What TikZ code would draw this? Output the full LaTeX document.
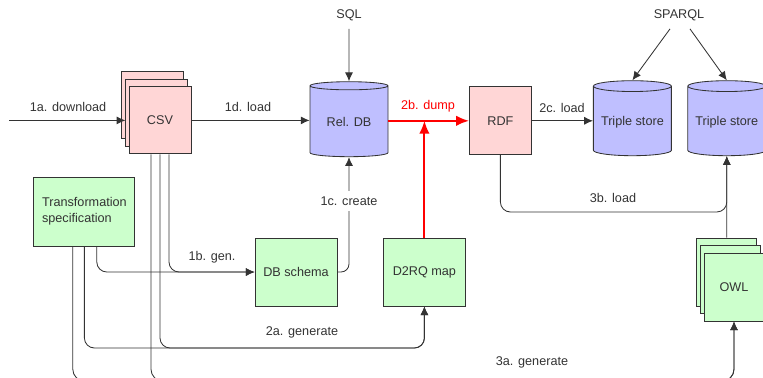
\documentclass[tikz,border=0pt]{standalone}
\usepackage{fontspec}
\setmainfont{Liberation Sans}
\usetikzlibrary{arrows.meta,shapes.geometric}
\definecolor{filepink}{RGB}{255,214,214}
\definecolor{docgreen}{RGB}{204,255,204}
\definecolor{storeblue}{RGB}{191,191,255}
\definecolor{linegray}{RGB}{51,51,51}

\begin{document}
\begin{tikzpicture}[
	font=\fontsize{9}{11.4}\selectfont, text=linegray,
	filebox/.style={draw=linegray, line width=0.6pt, fill=filepink, minimum width=1.55cm, minimum height=1.7cm},
	specbox/.style={draw=linegray, line width=0.6pt, fill=docgreen, minimum width=2.05cm, minimum height=1.7cm},
	store/.style={cylinder, shape border rotate=90, aspect=0.15, draw=linegray, line width=0.6pt, fill=storeblue, minimum width=1.95cm, minimum height=1.875cm},
	lbl/.style={inner sep=1pt},
	arr/.style={draw=linegray, line width=0.6pt, -{Latex[length=2.2mm,width=2mm]}},
	dump/.style={draw=red, line width=1.3pt, -{Latex[length=3.2mm,width=2.6mm]}}
]
	\clip (0,0) rectangle (19.075,-9.425);
	\foreach \i/\dx/\dy in {3/-0.18/0.375, 2/-0.08/0.19} {
		\node[filebox, minimum height=1.675cm] (csv\i) at (4+\dx,-3.01+\dy) {};
		\node[specbox, minimum width=1.5cm] (owl\i) at (18.35+\dx,-7.175+\dy) {};
	}
	\node[filebox, minimum height=1.675cm] (csv) at (4,-3.01) {CSV};
	\node[specbox, minimum width=1.5cm] (owl) at (18.35,-7.175) {OWL};
	\node[store] (reldb) at (8.725,-3.06) {Rel. DB};
	\node[filebox] (rdf) at (12.51,-3.02) {RDF};
	\node[store] (ts1) at (15.81,-3.06) {Triple store};
	\node[store] (ts2) at (18.17,-3.06) {Triple store};
	\node[specbox, minimum width=2.525cm, minimum height=1.725cm, align=left] (spec) at (2.11,-5.29) {Transformation\\specification};
	\node[specbox] (schema) at (7.4,-6.8) {DB schema};
	\node[specbox] (d2rq) at (10.61,-6.8) {D2RQ map};
	\node[lbl, inner sep=0.2cm] (sql) at (8.725,-0.375) {SQL};
	\node[lbl, inner sep=0.2cm] (sparql) at (16.975,-0.375) {SPARQL};

	\coordinate (web) at (0.225,-3.01);
	\coordinate (gen2a) at (10.61,-8.7);
	\coordinate (gen3a) at (18.35,-9.53);
	\coordinate (load3b) at (18.17,-5.3);

	\draw[arr] (web) -- (csv2.west |- web);
	\draw[arr] (csv.east) -- (csv.east -| reldb.west);
	\draw[arr] (sql) -- (reldb.north);
	\draw[arr] ([xshift=-0.225cm]sparql.south) -- (ts1.north);
	\draw[arr] ([xshift=0.275cm]sparql.south) -- (ts2.north);
	\draw[dump] (reldb.east |- rdf) -- (rdf.west);
	\draw[dump] (d2rq.north) -- (d2rq.north |- rdf);
	\draw[arr] (rdf.east) -- (rdf.east -| ts1.west);
	\draw[arr, rounded corners=0.2cm] (schema.east) -| (reldb.south);
	\draw[arr, rounded corners=0.25cm] ([xshift=0.31cm]spec.south) |- (schema.west);
	\draw[arr, rounded corners=0.25cm] ([xshift=0.225cm]csv.south) |- (schema.west);
	\draw[arr, rounded corners=0.25cm] (spec.south) |- (gen2a) -- (d2rq.south);
	\draw[arr, rounded corners=0.25cm] (csv.south) |- (gen2a) -- (d2rq.south);
	\draw[arr, rounded corners=0.3cm] ([xshift=-0.29cm]spec.south) |- (gen3a) -- (owl.south);
	\draw[arr, rounded corners=0.3cm] ([xshift=-0.225cm]csv.south) |- (gen3a) -- (owl.south);
	\draw[arr, rounded corners=0.25cm] (rdf.south) |- (load3b) -- (ts2.south);
	\draw[arr] (owl3.north) -- (ts2.south);

	\node[lbl] (l1a) at (1.7,-2.675) {1a. download};
	\node[lbl] (l1d) at (6.2,-2.675) {1d. load};
	\node[lbl, text=red] (l2b) at (10.7,-2.65) {2b. dump};
	\node[lbl] (l2c) at (14.05,-2.7) {2c. load};
	\node[lbl] (l1b) at (5.3,-6.425) {1b. gen.};
	\node[lbl, fill=white, inner sep=0.15cm] (l1c) at (8.725,-5.025) {1c. create};
	\node[lbl] (l3b) at (15.325,-4.95) {3b. load};
	\node[lbl] (l2a) at (7.55,-8.3) {2a. generate};
	\node[lbl] (l3a) at (13.3,-9.05) {3a. generate};
\end{tikzpicture}
\end{document}
